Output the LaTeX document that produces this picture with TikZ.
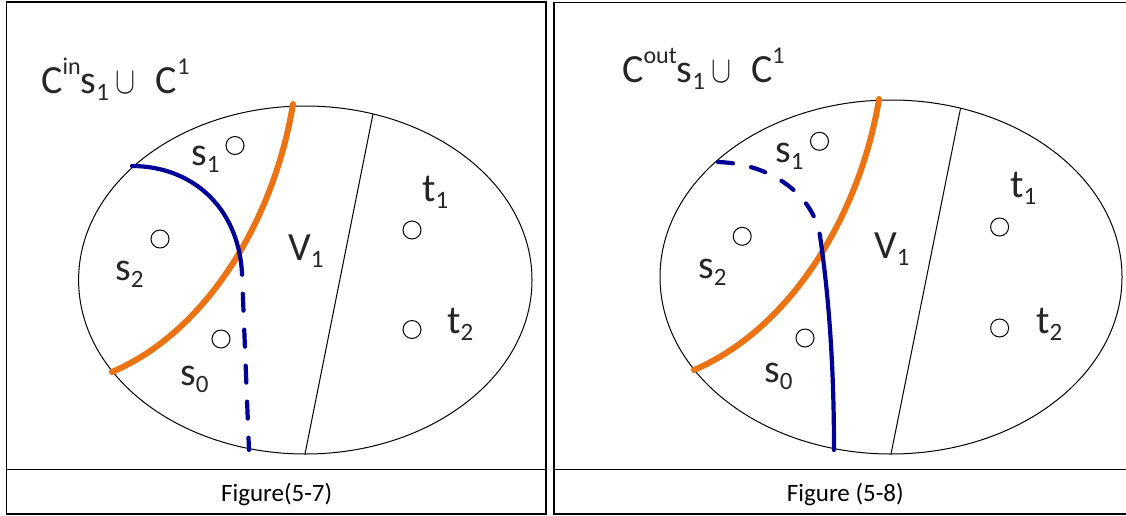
\documentclass[tikz,border=0pt]{standalone}
\usepackage{fontspec}
\setmainfont{Carlito}
\definecolor{navy}{RGB}{0,0,150}
\definecolor{orng}{RGB}{235,115,20}
\definecolor{ink}{RGB}{38,38,38}
\newcommand\sps[1]{\raisebox{19pt}{\fontsize{24}{24}\selectfont #1}}
\newcommand\sbs[1]{\raisebox{-7pt}{\fontsize{25}{25}\selectfont #1}}
\newcommand\cupsym{{\fontsize{10}{10}\selectfont\scalebox{3.0}[3.8]{$\cup$}}}
\begin{document}
\begin{tikzpicture}[x=1pt,y=-1pt,
  frame/.style={draw=black,line width=1.6pt},
  region/.style={draw=black,line width=1pt},
  lbl/.style={inner sep=0pt,anchor=base west,text=ink,font=\fontsize{40}{40}\selectfont},
  vtx/.style={circle,draw=black,line width=1pt,minimum size=18pt,inner sep=0pt},
  cutline/.style={draw=orng,line width=6pt,line cap=round},
  pth/.style={draw=navy,line width=4.2pt,line cap=round},
  capt/.style={inner sep=0pt,anchor=base,text=black,font=\fontsize{25}{25}\selectfont}]
\useasboundingbox (0,0) rectangle (1126,515);
\fill[white] (0,0) rectangle (1126,515);
% ---------- frames
\draw[frame] (6.5,2) rectangle (546,514);
\draw[frame] (6.5,469.5) -- (546,469.5);
\draw[frame] (1128,2.5) -- (554,2.5) -- (554,514) -- (1128,514);
\draw[frame] (554,469.5) -- (1128,469.5);
% ---------- left panel
\node[lbl] (titleL) at (41,93) {C\sps{in}s\sbs{1}\hspace{7pt}\cupsym\hspace{20pt}C\sps{1}};
\draw[region] (305.3,280) ellipse [x radius=226.7, y radius=174];
\coordinate (vtopL) at (373,114);
\coordinate (vbotL) at (305,454);
\draw[region] (vtopL) -- (vbotL);
\coordinate (oaL) at (293,104);
\coordinate (obL) at (112,372);
\draw[cutline] (oaL) .. controls (275,215) and (210,330) .. (obL);
\coordinate (baL) at (132,166);
\coordinate (bmL) at (242,273);
\coordinate (bbL) at (249,450);
\draw[pth] (baL) .. controls (190,166) and (238,205) .. (bmL);
\draw[pth,dash pattern=on 17pt off 19pt,dash phase=15.3pt] (bmL) -- (bbL);
\node[vtx] (cs1L) at (235,145.5) {};
\node[vtx] (cs2L) at (160,239) {};
\node[vtx] (cs0L) at (221,339) {};
\node[vtx] (ct1L) at (412,230) {};
\node[vtx] (ct2L) at (412,329.5) {};
\node[lbl] (ls1L) at (191,165) {s\sbs{1}};
\node[lbl] (ls2L) at (115,280) {s\sbs{2}};
\node[lbl] (ls0L) at (180,385) {s\sbs{0}};
\node[lbl] (lvL) at (288,260) {V\sbs{1}};
\node[lbl] (lt1L) at (422,201) {t\sbs{1}};
\node[lbl] (lt2L) at (447,333) {t\sbs{2}};
\node[capt] (capL) at (276.7,501.5) {Figure(5-7)};
% ---------- right panel
\node[lbl] (titleR) at (622,82) {C\sps{out}s\sbs{1}\hspace{6pt}\cupsym\hspace{20pt}C\sps{1}};
\draw[region] (891,277) ellipse [x radius=231, y radius=177];
\coordinate (vtopR) at (960.6,108);
\coordinate (vbotR) at (891,454);
\draw[region] (vtopR) -- (vbotR);
\coordinate (oaR) at (879,99);
\coordinate (obR) at (694,370);
\draw[cutline] (oaR) .. controls (861,210) and (794,327) .. (obR);
\coordinate (baR) at (718,162);
\coordinate (bmR) at (820,236);
\coordinate (bbR) at (834,450);
\draw[pth,dash pattern=on 15pt off 18.5pt] (baR) .. controls (775,164) and (814,198) .. (bmR);
\draw[pth] (bmR) .. controls (828,290) and (834,360) .. (bbR);
\node[vtx] (cs1R) at (819.5,141.3) {};
\node[vtx] (cs2R) at (742.2,236.3) {};
\node[vtx] (cs0R) at (805,338) {};
\node[vtx] (ct1R) at (999.6,227) {};
\node[vtx] (ct2R) at (999.6,328) {};
\node[lbl] (ls1R) at (775,162) {s\sbs{1}};
\node[lbl] (ls2R) at (698,278) {s\sbs{2}};
\node[lbl] (ls0R) at (764,382) {s\sbs{0}};
\node[lbl] (lvR) at (874,258) {V\sbs{1}};
\node[lbl] (lt1R) at (1010,197) {t\sbs{1}};
\node[lbl] (lt2R) at (1036,333) {t\sbs{2}};
\node[capt] (capR) at (845.3,501.5) {Figure (5-8)};
\end{tikzpicture}
\end{document}
